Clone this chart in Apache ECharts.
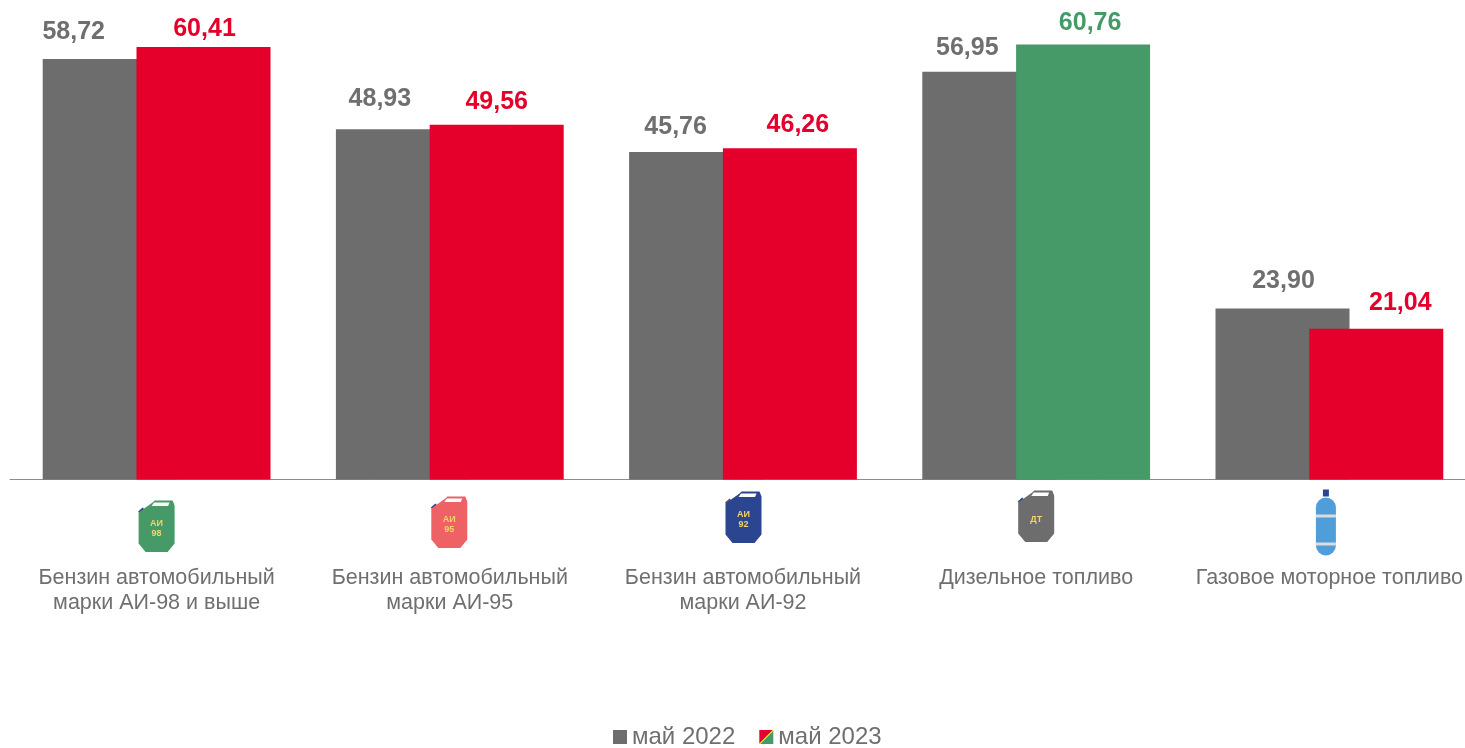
<!DOCTYPE html>
<html><head><meta charset="utf-8">
<style>html,body{margin:0;padding:0;background:#fff}#c{width:1465px;height:748px}</style>
<script src="https://cdn.jsdelivr.net/npm/echarts@6/dist/echarts.min.js"></script>
</head><body><div id="c"></div>
<script>
const categories = ['Бензин автомобильный\nмарки АИ-98 и выше','Бензин автомобильный\nмарки АИ-95','Бензин автомобильный\nмарки АИ-92','Дизельное топливо','Газовое моторное топливо'];
const may2022 = [58.72,48.93,45.76,56.95,23.90];
const may2023 = [60.41,49.56,46.26,60.76,21.04];
const seriesNames = ['май 2022','май 2023'];
const iconTexts = ['АИ\n98','АИ\n95','АИ\n92','ДТ',''];

const GRAY='#6d6d6d', RED='#e4002b', GREEN='#459a67', TXT='#6f6f6f';
const greenIdx = [3];
const iconColors = ['#459a67','#ee6165','#2b4590','#6d6d6d','#4f9ed9'];
const spoutColors = ['#2b4590','#2b4590','#5a5a5a','#2b4590'];
const iconPos = [[-18,21],[-18.5,17],[-17.5,12],[-18,11],[-13.5,10]];
const grayLabelOffset = [[-36,-10],[-23,-13],[-20.5,-7],[-22,-6],[1,-10]];
const redLabelOffset = [[1,0],[0,-5],[8,-6],[7,-4],[24,-8]];
const fmt = v => v.toFixed(2).replace('.',',');

function canItem(i, api){
  const p = api.coord([i,0]), col = iconColors[i], pos = iconPos[i];
  const x = p[0]+pos[0], y = p[1]+pos[1];
  if(i===4){
    return {type:'group',x:x,y:y,children:[
      {type:'rect',shape:{x:7,y:0,width:6,height:7},style:{fill:'#2b4590'}},
      {type:'rect',shape:{x:0,y:8,width:20,height:58,r:10},style:{fill:col}},
      {type:'rect',shape:{x:0,y:25,width:20,height:3},style:{fill:'#dcdcdc'}},
      {type:'rect',shape:{x:0,y:53,width:20,height:3},style:{fill:'#dcdcdc'}}
    ]};
  }
  const two = iconTexts[i].includes('\n');
  return {type:'group',x:x,y:y,children:[
    {type:'line',shape:{x1:0.5,y1:12,x2:5,y2:8},style:{stroke:spoutColors[i],lineWidth:3}},
    {type:'polygon',shape:{points:[[0,12],[14,2],[16,0],[34,0],[36,5],[36,43],[29,51.5],[7,51.5],[0,43]]},style:{fill:col}},
    {type:'polygon',shape:{points:[[15.5,2],[31,2],[29.5,5.5],[13,5.5]]},style:{fill:'#fff'}},
    {type:'text',style:{text:iconTexts[i],x:18,y:two?28:29,align:'center',verticalAlign:'middle',fill:'#f3d36b',font:'bold 9px "Liberation Sans"',lineHeight:10}}
  ]};
}

const chart = echarts.init(document.getElementById('c'),null,{renderer:'canvas'});
chart.setOption({
  animation:false,
  backgroundColor:'#fff',
  grid:{left:10,width:1466,top:7,height:472.5,outerBoundsMode:'none'},
  legend:{
    data:[
      {name:seriesNames[0],itemStyle:{color:GRAY}},
      {name:seriesNames[1],itemStyle:{color:new echarts.graphic.LinearGradient(0,0,1,1,[
        {offset:0,color:RED},{offset:0.47,color:RED},{offset:0.47,color:'#f2c230'},{offset:0.53,color:'#f2c230'},{offset:0.53,color:GREEN},{offset:1,color:GREEN}])}}
    ],
    icon:'rect',itemWidth:14,itemHeight:14,itemGap:24,left:608,top:720,
    textStyle:{fontFamily:'"Liberation Sans"',fontSize:24,color:TXT,padding:[0,0,0,0]},
    selectedMode:false
  },
  xAxis:{type:'category',data:categories,
    axisLine:{lineStyle:{color:'#8c8c8c',width:1}},axisTick:{show:false},
    axisLabel:{interval:0,margin:86,fontFamily:'"Liberation Sans"',fontSize:21.5,lineHeight:25,color:TXT,align:'center'}},
  yAxis:{type:'value',min:0,max:66,show:false,splitLine:{show:false}},
  series:[
    {name:seriesNames[0],type:'bar',barWidth:134,barGap:'-30%',z:2,
     itemStyle:{color:GRAY},
     data:may2022.map((v,i)=>({value:v,label:{show:true,position:'top',offset:grayLabelOffset[i],formatter:fmt(v),
        fontFamily:'"Liberation Sans"',fontWeight:'bold',fontSize:25,color:TXT}}))},
    {name:seriesNames[1],type:'bar',barWidth:134,barGap:'-30%',z:3,
     itemStyle:{color:RED},
     data:may2023.map((v,i)=>{const g=greenIdx.includes(i);return {value:v,itemStyle:{color:g?GREEN:RED},
        label:{show:true,position:'top',offset:redLabelOffset[i],formatter:fmt(v),
        fontFamily:'"Liberation Sans"',fontWeight:'bold',fontSize:25,color:g?GREEN:RED}};})},
    {type:'custom',silent:true,z:4,clip:false,coordinateSystem:'cartesian2d',
     data:categories.map((c,i)=>[i,0]),encode:{x:0,y:1},
     renderItem:(params,api)=>canItem(api.value(0),api)}
  ]
});
</script></body></html>
